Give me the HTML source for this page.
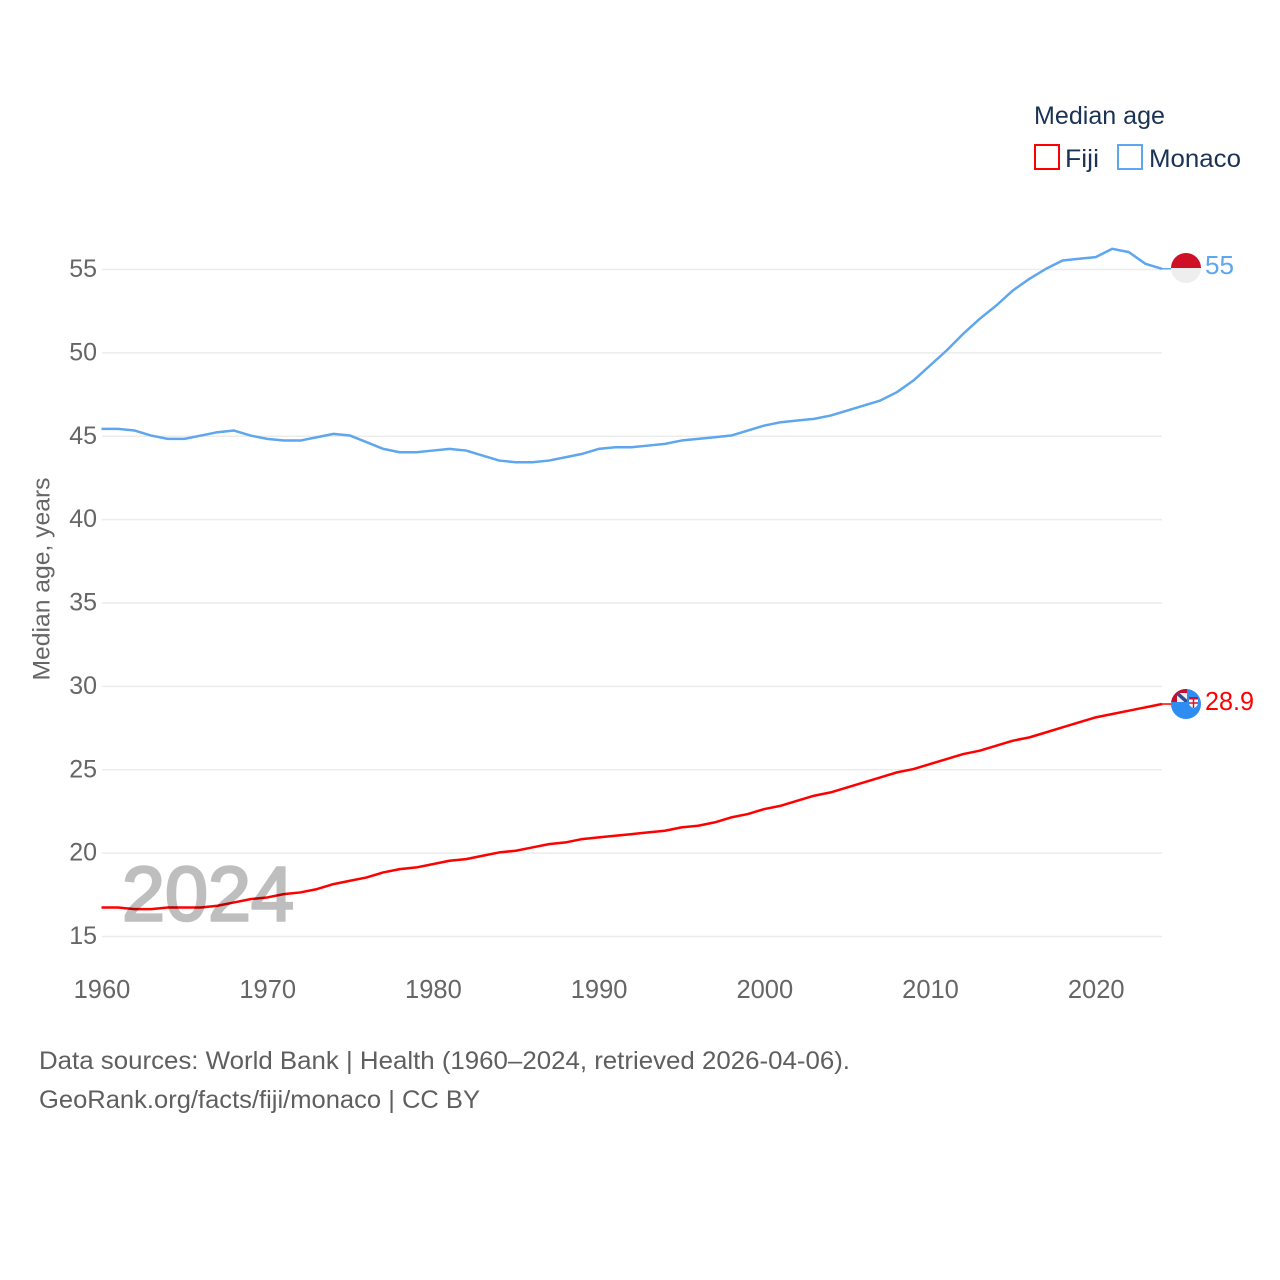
<!DOCTYPE html>
<html lang="en">
<head>
<meta charset="utf-8">
<title>Median age: Fiji and Monaco</title>
<style>
html,body{margin:0;padding:0;background:#fff;width:1280px;height:1280px;overflow:hidden}
svg{display:block}
text{font-family:"Liberation Sans",sans-serif}
.tick{font-size:25px;fill:#666}
.axis-title{font-size:24px;fill:#666}
.xtick{font-size:25.5px;fill:#666}
.note{font-size:25px;fill:#5f5f5f}
.leg{font-size:25px;fill:#1a3355}
</style>
</head>
<body>
<svg id="chart" width="1280" height="1280" viewBox="0 0 1280 1280" xmlns="http://www.w3.org/2000/svg">
  <defs>
    <clipPath id="clip-top"><circle cx="1186" cy="268" r="15"/></clipPath>
    <clipPath id="clip-bot"><circle cx="1186" cy="704" r="15"/></clipPath>
    <clipPath id="clip-jack"><rect x="1177" y="693" width="10" height="9"/></clipPath>
  </defs>
  <rect width="1280" height="1280" fill="#fff"/>
  <g id="grid"></g>
  <g id="yticks"></g>
  <g id="xticks"></g>
  <text class="axis-title" transform="translate(49.5,579) rotate(-90)" text-anchor="middle" textLength="203" lengthAdjust="spacingAndGlyphs">Median age, years</text>
  <g id="series"></g>

  <text x="122" y="920.5" font-size="77" fill="#000" stroke="#000" stroke-width="2.6" opacity="0.25" textLength="172" lengthAdjust="spacingAndGlyphs">2024</text>

  <g clip-path="url(#clip-top)">
    <rect x="1170" y="252" width="32" height="16" fill="#ce1126"/>
    <rect x="1170" y="268" width="32" height="17" fill="#eeeeee"/>
  </g>
  <text x="1205" y="274" font-size="26" fill="#5ea6ee" textLength="29" lengthAdjust="spacingAndGlyphs">55</text>

  <g clip-path="url(#clip-bot)">
    <rect x="1170" y="688" width="32" height="32" fill="#2f8cf0"/>
    <rect x="1171" y="688" width="16" height="14" fill="#c8102e"/>
    <rect x="1177" y="693" width="10" height="9" fill="#f4eeee"/>
    <g clip-path="url(#clip-jack)">
      <path d="M1177 693 L1187 702" stroke="#2d4f8e" stroke-width="3.5"/>
    </g>
    <path d="M1189 697 H1198 V703 Q1198 706 1193.5 708.5 Q1189 706 1189 703 Z" fill="#ffffff"/>
    <rect x="1189" y="697" width="9" height="2.5" fill="#d21034"/>
    <path d="M1193.5 699 V708 M1189 703 H1198" stroke="#d21034" stroke-width="1.5"/>
  </g>
  <text x="1205" y="710" font-size="26" fill="#ff0000" textLength="49" lengthAdjust="spacingAndGlyphs">28.9</text>

  <text class="leg" x="1034" y="124" textLength="131" lengthAdjust="spacingAndGlyphs">Median age</text>
  <rect x="1035" y="145" width="24" height="24" fill="none" stroke="#ff0000" stroke-width="2"/>
  <text class="leg" x="1065" y="167" textLength="34" lengthAdjust="spacingAndGlyphs">Fiji</text>
  <rect x="1118" y="145" width="24" height="24" fill="none" stroke="#5ea6ee" stroke-width="2"/>
  <text class="leg" x="1149" y="167" textLength="92" lengthAdjust="spacingAndGlyphs">Monaco</text>

  <text class="note" x="39" y="1069" textLength="811" lengthAdjust="spacingAndGlyphs">Data sources: World Bank | Health (1960–2024, retrieved 2026-04-06).</text>
  <text class="note" x="39" y="1108" textLength="441" lengthAdjust="spacingAndGlyphs">GeoRank.org/facts/fiji/monaco | CC BY</text>
</svg>
<script>
const startYear = 1960;
const yTickValues = [15, 20, 25, 30, 35, 40, 45, 50, 55];
const xTickValues = [1960, 1970, 1980, 1990, 2000, 2010, 2020];
const monacoValues = [
  45.4, 45.4, 45.3, 45.0, 44.8, 44.8, 45.0, 45.2, 45.3, 45.0,
  44.8, 44.7, 44.7, 44.9, 45.1, 45.0, 44.6, 44.2, 44.0, 44.0,
  44.1, 44.2, 44.1, 43.8, 43.5, 43.4, 43.4, 43.5, 43.7, 43.9,
  44.2, 44.3, 44.3, 44.4, 44.5, 44.7, 44.8, 44.9, 45.0, 45.3,
  45.6, 45.8, 45.9, 46.0, 46.2, 46.5, 46.8, 47.1, 47.6, 48.3,
  49.2, 50.1, 51.1, 52.0, 52.8, 53.7, 54.4, 55.0, 55.5, 55.6,
  55.7, 56.2, 56.0, 55.3, 55.0
];
const fijiValues = [
  16.7, 16.7, 16.6, 16.6, 16.7, 16.7, 16.7, 16.8, 17.0, 17.2,
  17.3, 17.5, 17.6, 17.8, 18.1, 18.3, 18.5, 18.8, 19.0, 19.1,
  19.3, 19.5, 19.6, 19.8, 20.0, 20.1, 20.3, 20.5, 20.6, 20.8,
  20.9, 21.0, 21.1, 21.2, 21.3, 21.5, 21.6, 21.8, 22.1, 22.3,
  22.6, 22.8, 23.1, 23.4, 23.6, 23.9, 24.2, 24.5, 24.8, 25.0,
  25.3, 25.6, 25.9, 26.1, 26.4, 26.7, 26.9, 27.2, 27.5, 27.8,
  28.1, 28.3, 28.5, 28.7, 28.9
];

const NS = 'http://www.w3.org/2000/svg';
function xScale(year) { return 101.5 + (year - 1960) * (1162 - 101.5) / 64; }
function yScale(v) { return 936.5 - (v - 15) * (936.5 - 269.5) / 40; }
function yLine(v) { return yScale(v) - 0.7; }

const grid = document.getElementById('grid');
const yticks = document.getElementById('yticks');
const xticks = document.getElementById('xticks');
const series = document.getElementById('series');

yTickValues.forEach(function (v) {
  const line = document.createElementNS(NS, 'line');
  
  
  line.setAttribute('x1', 102);
  line.setAttribute('x2', 1162);
  line.setAttribute('y1', yScale(v));
  line.setAttribute('y2', yScale(v));
  line.setAttribute('stroke', '#ececec');
  line.setAttribute('stroke-width', '1.5');
  grid.appendChild(line);

  const label = document.createElementNS(NS, 'text');
  
  
  label.setAttribute('class', 'tick');
  label.setAttribute('x', 97);
  label.setAttribute('y', yScale(v) + 7.5);
  label.setAttribute('text-anchor', 'end');
  label.textContent = String(v);
  yticks.appendChild(label);
});

xTickValues.forEach(function (year) {
  const label = document.createElementNS(NS, 'text');
  
  
  label.setAttribute('class', 'xtick');
  label.setAttribute('x', xScale(year) + 0.5);
  label.setAttribute('y', 998);
  label.setAttribute('text-anchor', 'middle');
  label.textContent = String(year);
  xticks.appendChild(label);
});

function drawSeries(values, color, name) {
  const pts = values.map(function (v, i) {
    return xScale(startYear + i).toFixed(2) + ',' + yLine(v).toFixed(2);
  });
  const line = document.createElementNS(NS, 'polyline');
  
  
  line.setAttribute('points', pts.join(' '));
  line.setAttribute('fill', 'none');
  line.setAttribute('stroke', color);
  line.setAttribute('stroke-width', '2.5');
  line.setAttribute('stroke-linejoin', 'round');
  series.appendChild(line);

  const lastY = yLine(values[values.length - 1]);
  const connector = document.createElementNS(NS, 'line');
  
  
  connector.setAttribute('x1', xScale(startYear + values.length - 1));
  connector.setAttribute('x2', xScale(startYear + values.length - 1) + 10);
  connector.setAttribute('y1', lastY);
  connector.setAttribute('y2', lastY);
  connector.setAttribute('stroke', color);
  connector.setAttribute('stroke-width', '1.5');
  series.appendChild(connector);
}
drawSeries(fijiValues, '#ff0000', 'fiji');
drawSeries(monacoValues, '#5ea6ee', 'monaco');
</script>
</body>
</html>
